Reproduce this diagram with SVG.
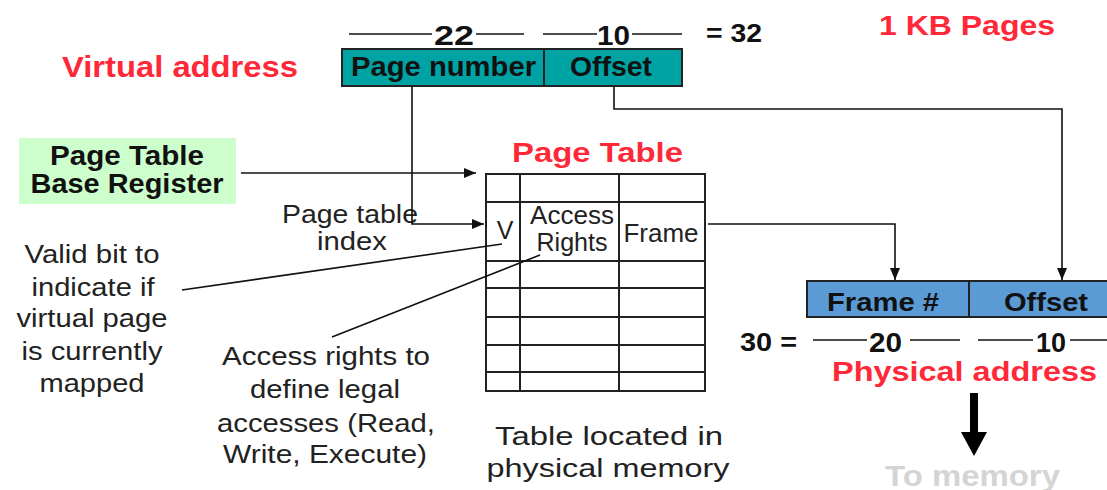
<svg xmlns="http://www.w3.org/2000/svg" width="1107" height="490" viewBox="0 0 1107 490">
  <style>
    text { font-family: "Liberation Sans", Arial, sans-serif; }
    .b { font-weight: bold; fill: #111; }
    .n { fill: #222; font-size: 25px; }
    .red { font-weight: bold; fill: #ff2838; }
    .ln { stroke: #111; stroke-width: 1.6; fill: none; }
    .cell { stroke: #222; stroke-width: 2; fill: none; }
    .box { stroke: #222; stroke-width: 2; }
    .dim { stroke: #111; stroke-width: 1.4; }
  </style>
  <defs>
    <marker id="arr" viewBox="0 0 12 10" refX="12" refY="5" markerWidth="12" markerHeight="10" markerUnits="userSpaceOnUse" orient="auto">
      <path d="M0,0 L12,5 L0,10 Z" fill="#111"/>
    </marker>
  </defs>
  <rect width="1107" height="490" fill="#fff"/>

  <!-- headings -->
  <text class="red" x="62" y="77" font-size="30" textLength="236" lengthAdjust="spacingAndGlyphs">Virtual address</text>
  <text class="red" x="879" y="35" font-size="28" textLength="176" lengthAdjust="spacingAndGlyphs">1 KB Pages</text>

  <!-- virtual address -->
  <g id="virtual-address">
    <line class="dim" x1="349" y1="34" x2="432" y2="34"/>
    <line class="dim" x1="476" y1="34" x2="524" y2="34"/>
    <line class="dim" x1="543" y1="34" x2="597" y2="34"/>
    <line class="dim" x1="632" y1="34" x2="682" y2="34"/>
    <text class="b" x="434" y="45" font-size="28" textLength="40" lengthAdjust="spacingAndGlyphs">22</text>
    <text class="b" x="597" y="45" font-size="28" textLength="33" lengthAdjust="spacingAndGlyphs">10</text>
    <text class="b" x="706" y="42" font-size="26" textLength="56" lengthAdjust="spacingAndGlyphs">= 32</text>
    <rect class="box" x="342" y="49" width="340" height="37" fill="#00a3a3"/>
    <line class="box" x1="544" y1="49" x2="544" y2="86"/>
    <text class="b" x="351" y="76" font-size="27" textLength="185" lengthAdjust="spacingAndGlyphs">Page number</text>
    <text class="b" x="570" y="76" font-size="27" textLength="82" lengthAdjust="spacingAndGlyphs">Offset</text>
  </g>

  <!-- base register -->
  <g id="ptbr">
    <rect x="19" y="138" width="217" height="66" fill="#ccffcc"/>
    <text class="b" x="127" y="165" font-size="27" text-anchor="middle" textLength="154" lengthAdjust="spacingAndGlyphs">Page Table</text>
    <text class="b" x="127" y="193" font-size="27" text-anchor="middle" textLength="193" lengthAdjust="spacingAndGlyphs">Base Register</text>
  </g>

  <!-- page table -->
  <g id="page-table">
    <text class="red" x="512" y="162" font-size="28" textLength="171" lengthAdjust="spacingAndGlyphs">Page Table</text>
    <rect class="cell" x="486" y="174" width="219" height="217"/>
    <line class="cell" x1="520" y1="174" x2="520" y2="391"/>
    <line class="cell" x1="619" y1="174" x2="619" y2="391"/>
    <line class="cell" x1="486" y1="202" x2="705" y2="202"/>
    <line class="cell" x1="486" y1="261" x2="705" y2="261"/>
    <line class="cell" x1="486" y1="288" x2="705" y2="288"/>
    <line class="cell" x1="486" y1="317" x2="705" y2="317"/>
    <line class="cell" x1="486" y1="345" x2="705" y2="345"/>
    <line class="cell" x1="486" y1="372" x2="705" y2="372"/>
    <text class="n" x="505" y="239" font-size="24" text-anchor="middle">V</text>
    <text class="n" x="572" y="224" font-size="23" text-anchor="middle" textLength="84" lengthAdjust="spacingAndGlyphs">Access</text>
    <text class="n" x="572" y="251" font-size="23" text-anchor="middle" textLength="71" lengthAdjust="spacingAndGlyphs">Rights</text>
    <text class="n" x="661" y="242" font-size="24" text-anchor="middle" textLength="75" lengthAdjust="spacingAndGlyphs">Frame</text>
  </g>

  <!-- physical address -->
  <g id="physical-address">
    <rect class="box" x="807" y="281" width="320" height="36" fill="#5b9bd5"/>
    <line class="box" x1="969" y1="281" x2="969" y2="317"/>
    <text class="b" x="827" y="311" font-size="26" textLength="112" lengthAdjust="spacingAndGlyphs">Frame #</text>
    <text class="b" x="1004" y="311" font-size="26" textLength="84" lengthAdjust="spacingAndGlyphs">Offset</text>
    <text class="b" x="740" y="351" font-size="26" textLength="57" lengthAdjust="spacingAndGlyphs">30 =</text>
    <line class="dim" x1="813" y1="340" x2="867" y2="340"/>
    <line class="dim" x1="910" y1="340" x2="960" y2="340"/>
    <line class="dim" x1="978" y1="340" x2="1033" y2="340"/>
    <line class="dim" x1="1070" y1="340" x2="1107" y2="340"/>
    <text class="b" x="869" y="352" font-size="27" textLength="33" lengthAdjust="spacingAndGlyphs">20</text>
    <text class="b" x="1036" y="352" font-size="27" textLength="30" lengthAdjust="spacingAndGlyphs">10</text>
    <text class="red" x="832" y="381" font-size="27" textLength="265" lengthAdjust="spacingAndGlyphs">Physical address</text>
  </g>

  <!-- to memory -->
  <g id="to-memory">
    <rect x="970" y="393" width="8" height="40" fill="#000"/>
    <path d="M961,432 L987,432 L974,456 Z" fill="#000"/>
    <text x="885" y="486" font-size="29" font-weight="bold" fill="#d4d4d4" textLength="175" lengthAdjust="spacingAndGlyphs">To memory</text>
  </g>

  <!-- annotations -->
  <g id="notes">
    <text class="n" x="350" y="223" text-anchor="middle" textLength="136" lengthAdjust="spacingAndGlyphs">Page table</text>
    <text class="n" x="352" y="250" text-anchor="middle" textLength="70" lengthAdjust="spacingAndGlyphs">index</text>
    <text class="n" x="92" y="263" text-anchor="middle" textLength="135" lengthAdjust="spacingAndGlyphs">Valid bit to</text>
    <text class="n" x="93" y="296" text-anchor="middle" textLength="123" lengthAdjust="spacingAndGlyphs">indicate if</text>
    <text class="n" x="92" y="327" text-anchor="middle" textLength="151" lengthAdjust="spacingAndGlyphs">virtual page</text>
    <text class="n" x="92" y="360" text-anchor="middle" textLength="141" lengthAdjust="spacingAndGlyphs">is currently</text>
    <text class="n" x="92" y="392" text-anchor="middle" textLength="105" lengthAdjust="spacingAndGlyphs">mapped</text>
    <text class="n" x="326" y="365" text-anchor="middle" textLength="208" lengthAdjust="spacingAndGlyphs">Access rights to</text>
    <text class="n" x="325" y="398" text-anchor="middle" textLength="150" lengthAdjust="spacingAndGlyphs">define legal</text>
    <text class="n" x="326" y="432" text-anchor="middle" textLength="218" lengthAdjust="spacingAndGlyphs">accesses (Read,</text>
    <text class="n" x="325" y="463" text-anchor="middle" textLength="204" lengthAdjust="spacingAndGlyphs">Write, Execute)</text>
    <text class="n" x="609" y="445" text-anchor="middle" textLength="228" lengthAdjust="spacingAndGlyphs">Table located in</text>
    <text class="n" x="608" y="477" text-anchor="middle" textLength="243" lengthAdjust="spacingAndGlyphs">physical memory</text>
  </g>

  <!-- connectors -->
  <g id="connectors">
    <line class="ln" x1="241" y1="173" x2="476" y2="173" marker-end="url(#arr)"/>
    <path class="ln" d="M412,86 V224 H484" marker-end="url(#arr)"/>
    <path class="ln" d="M614,86 V109 H1062 V280" marker-end="url(#arr)"/>
    <path class="ln" d="M708,224 H895 V280" marker-end="url(#arr)"/>
    <line class="ln" stroke-width="1.3" x1="182" y1="290" x2="502" y2="244"/>
    <line class="ln" stroke-width="1.3" x1="332" y1="337" x2="540" y2="255"/>
  </g>
</svg>
